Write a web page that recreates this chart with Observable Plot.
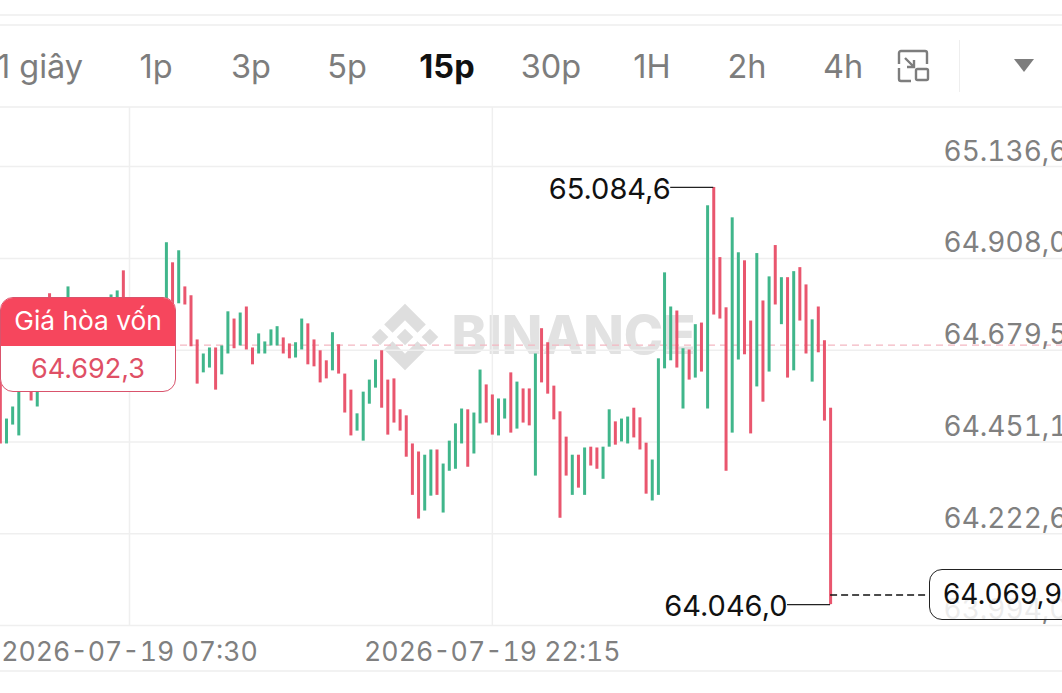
<!DOCTYPE html>
<html><head><meta charset="utf-8">
<script src="https://cdn.jsdelivr.net/npm/d3@7"></script>
<script src="https://cdn.jsdelivr.net/npm/@observablehq/plot@0.6"></script>
<style>
html,body{margin:0;padding:0;background:#fff;width:1062px;height:693px;overflow:hidden;font-family:Inter,sans-serif}
#chart{position:absolute;left:0;top:0}
.tb{position:absolute;top:47px;font-size:32.5px;line-height:40px;color:#7d7d7d;transform:translateX(-50%);white-space:nowrap}
.hl{position:absolute;left:0;width:1062px;height:2px;background:#f2f2f2}
#be{position:absolute;left:0;top:297px;width:176px;height:95px;box-sizing:border-box;border:1.5px solid #d9536c;border-radius:13px;background:#fff;overflow:hidden;text-align:center}
#be .h{background:#f6465d;color:#fff;height:49px;line-height:47px;font-size:26.3px;margin:-1px;white-space:nowrap}
#be .v{color:#df5066;font-size:27px;line-height:47px}
#cur{position:absolute;left:929px;top:569px;width:160px;height:51px;box-sizing:border-box;border:1.5px solid #222;border-radius:13px;background:rgba(255,255,255,.85);color:#111;font-size:28px;line-height:49px;padding-left:13px}
</style></head><body>
<div class="hl" style="top:14px"></div>
<div class="hl" style="top:24px"></div>
<div class="hl" style="top:106px"></div>
<div class="hl" style="top:670px"></div>
<div id="chart"></div>
<div id="toolbar"></div>
<div id="be"><div class="h"></div><div class="v"></div></div>
<div id="cur"></div>
<script>
const intervals = ["1 giây","1p","3p","5p","15p","30p","1H","2h","4h"];
const activeInterval = "15p";
const priceTicks = [65136.6,64908.0,64679.5,64451.1,64222.6,63994.0];
const breakEven = 64692.3;
const lastPrice = 64069.9;
const periodHigh = 65084.6;
const periodLow = 64046.0;
const firstCandle = "2026-07-19T02:15:00Z";
const timeTicks = ["2026-07-19T07:30:00Z","2026-07-19T22:15:00Z"];

const highs = [64628,64508,64538,64623,64690,64615,64628,64703,64820,64777,64765,64837,64777,64752,64765,64740,64752,64790,64817,64827,64877,
64790,64777,64752,64728,64740,64752,64947,64897,64927,64837,64815,64705,64670,64685,64685,64690,64775,64757,64772,64787,
64685,64720,64700,64730,64738,64710,64695,64698,64757,64745,64705,64678,64653,64723,64693,64620,64580,64521,64575,64605,
64655,64678,64605,64608,64531,64516,64446,64426,64418,64431,64431,64396,64453,64496,64533,64531,64523,64630,64593,64568,
64558,64558,64623,64600,64583,64583,64670,64733,64698,64590,64526,64463,64418,64418,64436,64438,64436,64438,64531,64501,
64508,64513,64535,64511,64448,64406,64658,64872,64787,64777,64683,64680,64743,64747,65039,65084.6,64910,64785,65009,64922,
64902,64752,64920,64802,64862,64940,64860,64860,64875,64885,64842,64755,64787,64703,64535];
const lows = [64446,64446,64493,64466,64603,64553,64538,64615,64703,64678,64690,64728,64703,64678,64690,64665,64678,64703,64728,64740,64740,
64703,64678,64690,64653,64678,64690,64740,64728,64795,64792,64688,64595,64623,64635,64580,64618,64670,64683,64690,64680,
64643,64670,64670,64690,64690,64670,64658,64660,64680,64643,64638,64598,64608,64628,64620,64523,64466,64478,64453,64545,
64585,64535,64468,64498,64478,64413,64318,64259,64279,64316,64318,64274,64378,64383,64446,64388,64421,64496,64498,64468,
64466,64508,64473,64483,64498,64491,64366,64598,64570,64506,64261,64366,64318,64336,64318,64391,64383,64358,64438,64443,
64451,64446,64461,64431,64321,64304,64318,64633,64653,64635,64533,64605,64610,64625,64533,64767,64757,64378,64473,64655,
64668,64471,64588,64550,64625,64792,64743,64610,64628,64752,64670,64600,64673,64503,64046];
const sideList = ["d","u","u","u","u","d","u","u","d","u","d","u","d","u","d","u","u","u","u","u","d",
"d","u","d","d","u","u","u","d","u","d","d","d","u","u","d","u","u","d","u","d",
"d","u","u","u","u","d","d","u","u","d","d","d","d","u","d","d","d","u","u","u",
"u","d","d","d","d","d","d","d","u","u","d","u","u","u","u","d","u","u","d","d",
"u","u","d","u","d","d","u","d","d","d","d","d","u","d","u","d","d","u","u","d",
"u","u","d","d","d","u","u","u","u","d","u","d","u","d","u","d","d","d","u","u",
"d","d","u","d","u","d","u","d","u","d","d","u","d","d","d"];

const t0 = +new Date(firstCandle), step = 15*60*1000;
const time = i => new Date(t0 + i*step);
const candles = highs.map((h,i)=>({t:time(i),high:h,low:lows[i],side:sideList[i]}));
const comma = v => { const s = v.toFixed(1).split("."); return s[0].replace(/\B(?=(\d{3})+$)/g,".")+","+s[1]; };
const ticks = timeTicks.map(d=>new Date(d));
const dateLabel = d => d.toISOString().slice(0,16).replace("T"," ");

// pixel pitch of the time axis decides the domain: 07:30 sits at 129, a candle every 6.15
const iAt = px => (px-129)/6.15 + 21;
const gridColor = "#efefef";

const logo = () => {
  const g = d3.create("svg:g").attr("fill","#dedede").attr("transform","translate(405,337) scale(1.04)");
  const paths = ["M0,-32 L20,-12 L12,-4 L0,-16 L-12,-4 L-20,-12 Z","M0,32 L20,12 L12,4 L0,16 L-12,4 L-20,12 Z",
   "M-16,0 L-24,8 L-32,0 L-24,-8 Z","M16,0 L24,8 L32,0 L24,-8 Z","M0,-8 L8,0 L0,8 L-8,0 Z"];
  g.selectAll("path").data(paths).join("path").attr("d",d=>d);
  return g.node();
};

const chart = Plot.plot({
  width:1062,height:693,marginLeft:0,marginRight:119,marginTop:107,marginBottom:68,
  style:{background:"transparent",fontFamily:"Inter, sans-serif",overflow:"hidden"},
  x:{type:"utc",domain:[time(iAt(0)),time(iAt(943))]},
  y:{domain:[63994.0,65283.7]},
  color:{domain:["d","u"],range:["#e9566e","#40b68b"]},
  marks:[
    logo,
    Plot.text(["BINANCE"],{frameAnchor:"top-left",dx:451,dy:230,text:d=>d,fontSize:53,fontWeight:800,fill:"#e2e2e2",lineAnchor:"middle",textAnchor:"start",style:{letterSpacing:"3px"}}),
    Plot.ruleY(priceTicks,{stroke:gridColor,strokeWidth:1.5,insetRight:-119}),
    Plot.ruleX(ticks,{stroke:gridColor,strokeWidth:1.5}),
    Plot.ruleY([breakEven],{stroke:"#f3b7c1",strokeDasharray:"7 5",strokeWidth:1.2,insetRight:-119}),
    Plot.ruleX(candles,{x:"t",y1:"low",y2:"high",stroke:"side",strokeWidth:3}),
    Plot.ruleY([periodHigh],{x1:time(109),x2:time(116),stroke:"#222",strokeWidth:1.3}),
    Plot.ruleY([periodLow],{x1:time(128),x2:time(135),stroke:"#222",strokeWidth:1.3}),
    Plot.ruleY([lastPrice],{x1:time(135),x2:time(iAt(930)),stroke:"#111",strokeWidth:1.5,strokeDasharray:"7 4"}),
    Plot.text([periodHigh],{x:()=>time(109),y:d=>d,text:comma,textAnchor:"end",dx:0,dy:2,fontSize:29,fill:"#111"}),
    Plot.text([periodLow],{x:()=>time(128),y:d=>d,text:comma,textAnchor:"end",dx:0,dy:2,fontSize:29,fill:"#111"}),
    Plot.axisY(priceTicks,{anchor:"right",tickSize:0,tickPadding:0,textAnchor:"start",tickFormat:comma,fontSize:28,fill:"#808080",dx:0,dy:-15,label:null}),
    Plot.axisX(ticks,{anchor:"bottom",tickSize:0,tickPadding:17,tickFormat:dateLabel,fontSize:26.7,fill:"#808080",label:null})
  ]
});
document.getElementById("chart").append(chart);

const tbx = {"1 giây":40,"1p":156,"3p":251,"5p":347,"15p":447,"30p":551,"1H":652,"2h":747,"4h":843};
const tb = document.getElementById("toolbar");
intervals.forEach(l=>{
  const s=document.createElement("span"); s.className="tb"; s.textContent=l; s.style.left=tbx[l]+"px";
  if(l===activeInterval){s.style.color="#111";s.style.fontWeight="700";}
  tb.append(s);
});
tb.insertAdjacentHTML("beforeend",`<svg style="position:absolute;left:896px;top:48px" width="38" height="38" fill="none" stroke="#7d7d7d" stroke-width="2.4">
<path d="M3 16V5a2 2 0 0 1 2-2h24a2 2 0 0 1 2 2v11M3 20v11a2 2 0 0 0 2 2h10"/><rect x="20" y="21" width="12" height="11" rx="1.5"/><path d="M9 10l9 9M18 12v7h-7"/></svg>
<div style="position:absolute;left:959px;top:40px;width:1px;height:52px;background:#eee"></div>
<svg style="position:absolute;left:1013px;top:58px" width="22" height="15"><path d="M1 1h20L11 14z" fill="#7d7d7d"/></svg>`);
document.querySelector("#be .h").textContent="Giá hòa vốn";
document.querySelector("#be .v").textContent=comma(breakEven);
document.getElementById("cur").textContent=comma(lastPrice);
</script>
</body></html>
